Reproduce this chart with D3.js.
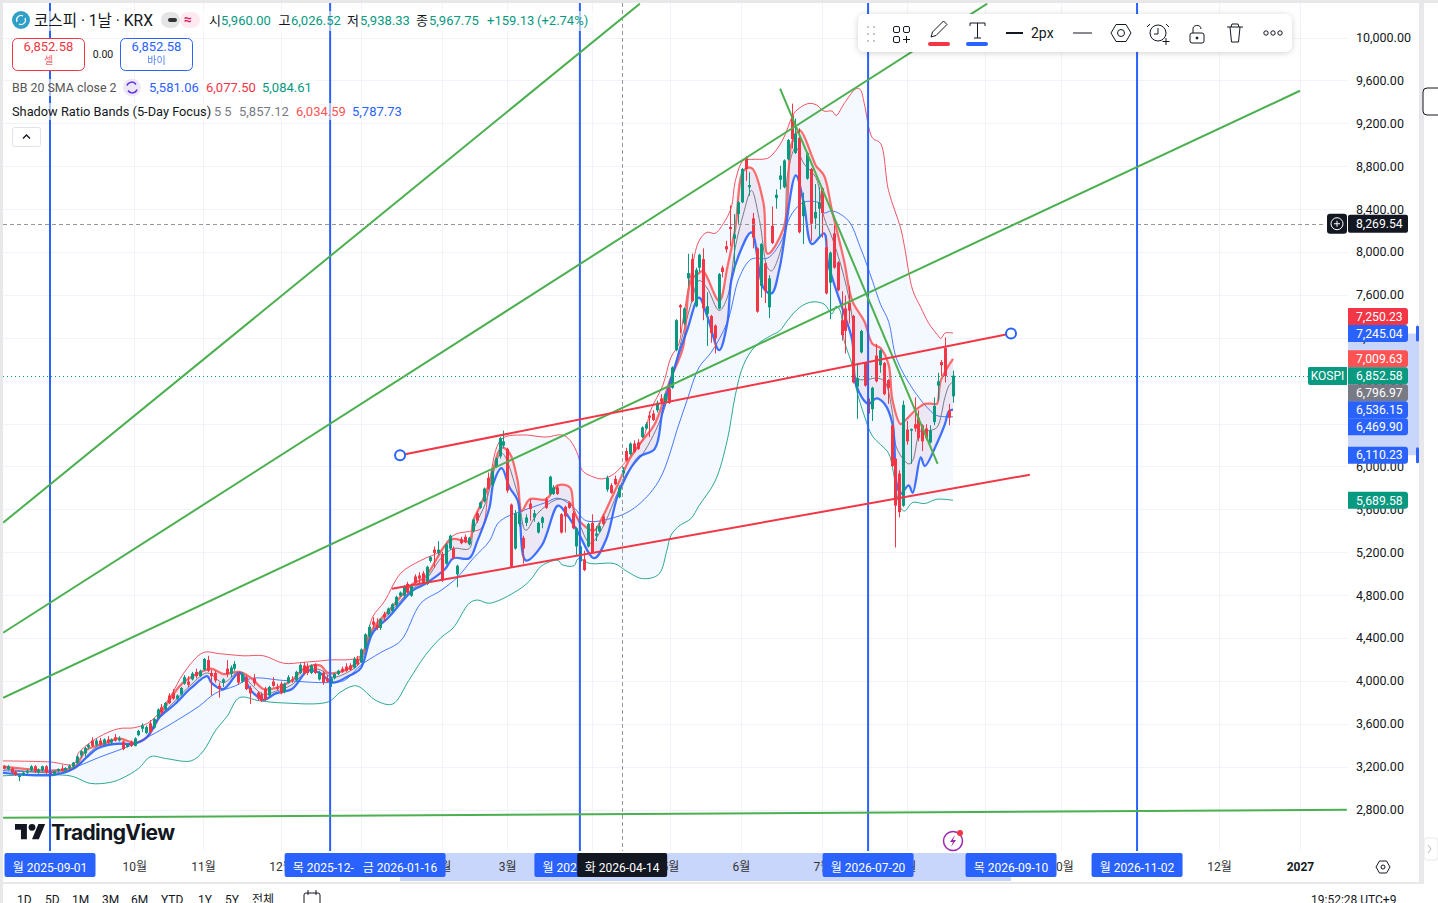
<!DOCTYPE html>
<html><head><meta charset="utf-8">
<style>html,body{margin:0;padding:0;background:#fff;overflow:hidden}svg{display:block}
text{font-family:Roboto,"Noto Sans CJK KR",sans-serif}</style>
<script src="https://cdn.jsdelivr.net/npm/d3@7/dist/d3.min.js"></script></head><body>
<svg id="c" width="1438" height="903"></svg>
<script>
// ---------- candles (one entry per session) ----------
const opens=[3220,3210,3180,3190,3160,3110,3130,3150,3170,3210,3150,3170,3210,3160,3130,3165,3190,3170,3195,3205,
3240,3310,3330,3385,3450,3410,3450,3420,3460,3430,3480,3450,3440,3390,3440,3400,3500,3560,3520,3610,
3570,3660,3760,3740,3870,3890,3840,3880,3980,4000,4020,4090,4050,4110,4200,4080,4080,3960,3990,4120,
4070,4120,4070,4000,4040,3940,4030,3895,3880,3930,3870,4000,3950,3980,3900,3990,4020,4010,4080,4150,
4140,4080,4160,4020,4080,4030,3990,4030,4070,4120,4140,4150,4130,4210,4180,4310,4420,4560,4530,4500,
4630,4630,4660,4710,4800,4800,4910,4800,4980,4990,5010,4910,5125,5230,5200,5190,5100,5240,5240,5000,
5330,5350,5280,5400,5570,5620,5680,5900,5830,6000,6100,6200,6170,5650,5240,5470,5340,5480,5660,5530,
5390,5480,5700,5750,5750,5810,5560,5630,5670,5570,5260,5120,5140,5260,5480,5360,5400,5540,5790,5830,
5890,5720,5940,6150,6120,6220,6230,6280,6360,6480,6500,6530,6640,6600,6730,6740,7090,7510,7340,7760,
7940,7500,7860,7940,7430,7410,7320,7480,7860,8060,8240,8130,8360,8470,8880,8610,8320,8040,7690,7900,
7490,8250,8510,8680,8610,8870,9280,8930,9070,8340,8690,8780,8320,8410,8600,8050,7720,8180,7910,7370,
7480,7530,7410,6750,7070,6970,6640,6540,7040,6950,6970,6810,6390,6080,5940,5640,6350,6340,6400,6460,
6390,6360,6230,6420,6760,6980,7110,6530,6660];
const highs=[3230,3220,3220,3200,3170,3130,3160,3180,3220,3220,3190,3215,3220,3180,3170,3190,3220,3200,3225,3250,
3310,3360,3390,3420,3480,3470,3475,3470,3490,3470,3510,3490,3450,3420,3450,3480,3550,3610,3590,3640,
3660,3750,3790,3810,3890,3930,3880,3950,4060,4050,4090,4120,4110,4220,4240,4110,4100,3990,4030,4200,
4150,4190,4090,4090,4060,3960,4070,3910,3900,3950,3960,4040,3980,4000,3990,4060,4050,4100,4170,4180,
4170,4160,4170,4100,4100,4060,4040,4080,4110,4140,4170,4170,4230,4240,4310,4450,4530,4600,4590,4590,
4650,4690,4730,4800,4840,4900,4930,4910,5000,5020,5030,5080,5170,5260,5310,5210,5290,5370,5260,5090,
5350,5370,5350,5520,5590,5680,5810,5950,5970,6090,6280,6340,6180,5660,5600,5590,5360,5560,5700,5600,
5490,5540,5720,5920,5830,5830,5570,5640,5680,5590,5440,5270,5220,5480,5560,5450,5480,5560,5920,5850,
5920,5830,6000,6180,6230,6250,6260,6380,6420,6520,6530,6620,6680,6690,6760,6940,7380,7520,7490,7990,
7990,7860,7990,8040,7630,7420,7330,7810,7880,8110,8440,8360,8480,8790,8900,8750,8370,8050,8090,7910,
7790,8430,8590,8810,8870,9060,9390,9250,9160,8560,8940,8790,8640,8610,8610,8130,8010,8260,7920,7640,
7600,7690,7420,6970,7280,6980,6740,6750,7150,7100,6980,6820,6400,6090,5970,6620,6430,6360,6650,6530,
6400,6400,6390,6650,6880,7000,7210,6590,6900];
const lows=[3170,3180,3170,3140,3120,3070,3120,3140,3160,3150,3140,3160,3140,3120,3120,3155,3160,3160,3175,3190,
3230,3290,3300,3370,3390,3395,3400,3410,3420,3410,3440,3440,3360,3385,3390,3395,3490,3530,3510,3520,
3560,3650,3700,3730,3790,3830,3830,3870,3970,3950,4010,4030,4040,4100,4090,3870,3990,3850,3950,4040,
4040,4100,3970,3990,3920,3790,3960,3820,3810,3820,3860,3950,3920,3880,3890,3980,3990,4000,4070,4060,
4060,4070,4070,4010,3970,3990,3950,4020,4060,4080,4090,4100,4120,4150,4170,4300,4400,4500,4480,4480,
4560,4620,4650,4700,4790,4780,4820,4790,4900,4900,4910,4900,5110,5060,5180,4930,5090,5230,5140,4880,
5280,5290,5270,5390,5480,5610,5670,5790,5820,5990,6080,6180,5760,5060,5230,5450,5100,5450,5500,5490,
5380,5430,5610,5740,5740,5740,5380,5390,5610,5420,5180,5070,5030,5250,5190,5310,5390,5460,5770,5750,
5830,5710,5900,6050,6110,6130,6160,6270,6350,6280,6430,6510,6590,6590,6590,6730,7080,7250,7320,7690,
7540,7490,7820,7370,7130,7160,7060,7470,7770,8000,8060,7830,8270,8460,8670,8530,8040,7440,7580,7530,
7390,8080,8410,8590,8600,8860,8970,8920,8180,8080,8680,8110,8220,8140,8140,7610,7380,7850,7640,7180,
7060,7340,6780,6450,7060,6750,6450,6430,6790,6880,6670,6590,6000,5250,5530,5630,6210,6030,6330,6240,
6150,6250,6220,6390,6620,6850,6790,6390,6600];
const closes=[3180,3190,3210,3150,3130,3125,3150,3170,3210,3160,3180,3210,3150,3130,3165,3185,3170,3195,3215,3245,
3300,3350,3380,3410,3400,3450,3415,3460,3430,3460,3450,3470,3370,3415,3400,3470,3540,3590,3575,3530,
3650,3740,3710,3800,3800,3840,3870,3940,4040,3970,4075,4050,4100,4210,4100,4050,4010,3930,4020,4070,
4130,4165,3990,4070,3930,3890,3985,3840,3820,3830,3950,3960,3930,3890,3980,4040,4010,4090,4155,4080,
4080,4150,4080,4080,3990,4000,4030,4070,4100,4090,4100,4110,4210,4160,4300,4440,4510,4530,4500,4580,
4600,4680,4720,4790,4830,4890,4830,4900,4920,4960,4920,5070,5160,5200,5230,4940,5280,5360,5150,5080,
5290,5300,5340,5510,5500,5670,5800,5800,5960,6080,6270,6240,5780,5070,5570,5570,5240,5530,5610,5570,
5480,5530,5620,5910,5810,5750,5390,5540,5620,5430,5430,5260,5040,5470,5200,5380,5450,5470,5900,5760,
5840,5810,5970,6060,6220,6140,6170,6370,6400,6460,6440,6600,6610,6680,6600,6930,7370,7490,7480,7810,
7550,7840,7980,7480,7500,7250,7200,7800,7820,8030,8220,8170,8470,8780,8780,8630,8140,7450,8080,7640,
7760,8090,8540,8720,8860,9050,9060,9110,8190,8480,8930,8270,8380,8470,8370,7620,8000,7860,7650,7230,
7270,7460,6790,6830,7270,6760,6500,6740,6800,7090,6680,6740,6010,5640,5580,6580,6240,6355,6360,6270,
6240,6270,6340,6570,6800,6950,6850,6460,6852.58];

// ---------- Bollinger Bands, read at sample positions ----------
const bbUpperAt=[0,12,18,19,24,29,33,37,42,45,50,54,60,65,70,75,81,89,92,95,99,104,109,111,113,116,119,121,124,129,135,139,141,143,144,146,149,152,155,159,161,164,166,168,169,171,173,175,177,179,181,182,184,186,190,192,194,196,197,200,202,204,206,207,209,212,213,214,216,218,220,223,224,226,228,230,232,233,234,236];
const bbUpper=[3260,3250,3230,3330,3480,3560,3570,3630,3870,4070,4270,4260,4240,4240,4170,4180,4200,4240,4600,4750,5010,5130,5220,5330,5380,5400,5430,5870,6260,6300,6280,6300,6250,6110,5970,5920,5890,5940,6060,6250,6530,6760,7020,7150,7370,7800,8110,8190,8180,8270,8420,8670,8860,8870,8880,8950,9070,9260,9320,9390,9380,9320,9320,9280,9390,9530,9520,9390,9070,9020,8580,8230,8050,7650,7490,7340,7240,7200,7250,7250];
const bbBasisAt=[0,12,18,24,33,40,44,49,53,58,62,70,81,85,89,94,99,104,109,113,117,121,123,125,129,135,138,142,145,152,157,163,168,170,173,176,180,183,186,190,193,196,199,203,204,206,210,213,216,218,220,222,226,230,232,236];
const bbBasis=[3170,3160,3200,3290,3420,3560,3650,3770,3890,3960,4030,4010,3990,4010,4150,4270,4380,4730,4850,4970,5150,5310,5470,5530,5590,5670,5710,5620,5500,5530,5620,5870,6400,6620,6930,7070,7350,7770,7940,7950,8080,8360,8470,8460,8370,8390,8300,8050,7740,7520,7360,7010,6730,6540,6480,6470];
const bbLowerAt=[0,17,22,27,30,34,37,41,47,50,53,56,59,64,70,81,84,88,93,97,101,105,109,112,116,118,121,128,131,134,138,139,142,143,146,152,155,159,163,165,166,168,171,173,177,180,182,184,187,191,193,195,198,201,204,206,207,208,209,211,212,214,216,220,221,223,224,226,229,232,236];
const bbLower=[3120,3120,3050,3060,3100,3190,3300,3280,3260,3350,3540,3680,3850,3820,3800,3810,3900,3960,3820,3790,4010,4240,4410,4500,4730,4760,4730,4850,4940,5080,5130,5090,5080,5145,5100,5100,5030,4960,5000,5220,5360,5450,5520,5640,5870,6250,6670,6950,7130,7230,7270,7370,7490,7540,7520,7430,7500,7460,7180,6950,6730,6480,6290,6130,5990,5620,5590,5670,5660,5700,5690];

// ---------- Shadow Ratio Bands, read at sample positions ----------
const srUpperAt=[0,12,18,21,26,29,33,36,39,42,45,49,52,55,59,62,65,68,72,75,79,81,86,89,92,96,102,105,108,110,112,116,117,119,121,124,126,128,129,131,135,138,141,142,144,147,149,153,156,159,162,166,169,171,173,174,178,180,182,184,186,189,190,194,196,198,201,202,204,206,209,211,214,216,218,220,221,223,224,227,229,231,232,233,236];
const srUpper=[3210,3170,3200,3360,3430,3470,3430,3480,3660,3850,3990,4080,4120,4070,4090,4030,3930,3940,4010,4120,4150,4080,4120,4220,4490,4660,4910,4970,5150,5270,5330,5310,5500,5660,5850,6180,6130,5870,5590,5700,5700,5830,5810,5590,5470,5410,5530,5850,6090,6250,6400,6830,7110,7740,7810,7830,7550,7860,8230,8760,8790,8460,7990,8230,9020,9140,8900,8810,8720,8390,7920,7550,7360,7150,7110,6960,6620,6400,6430,6540,6590,6590,6590,6810,7009.63];
const srMidAt=[0,12,18,24,33,36,39,43,47,51,55,59,62,65,68,72,76,79,82,86,89,92,96,102,105,109,112,116,117,120,124,128,130,133,138,141,143,146,149,152,155,159,164,168,171,173,175,178,180,182,184,186,188,190,191,194,195,197,199,202,204,206,209,211,212,215,217,219,221,222,225,226,228,230,232,234,235,236];
const srMid=[3190,3150,3190,3400,3420,3480,3660,3820,3970,4080,3990,4090,3970,3880,3910,3970,4110,4110,4040,4090,4180,4470,4630,4870,4940,5150,5240,5240,5410,5660,6130,5750,5410,5570,5700,5670,5500,5290,5430,5690,5940,6120,6500,7090,7520,7740,7670,7460,7580,8050,8360,8580,8300,7860,7830,8140,8740,8980,8830,8700,8330,8140,7770,7390,6830,6820,6830,6800,6500,6180,6030,6060,6340,6340,6370,6650,6760,6796.97];
const srLowerAt=[0,13,18,21,24,29,33,36,39,43,47,51,52,55,59,62,65,68,72,76,79,82,86,89,92,96,102,105,110,112,116,118,121,122,124,126,128,130,134,138,140,143,147,150,153,158,162,164,168,170,173,175,178,180,181,183,186,189,191,193,197,199,201,204,205,209,211,212,215,217,219,221,222,223,225,226,228,229,232,234,235,236];
const srLower=[3150,3130,3190,3290,3380,3420,3420,3480,3660,3790,3940,4050,3990,3930,4080,3910,3830,3890,3930,4100,4080,3990,4050,4120,4450,4600,4850,4910,5050,5150,5150,5310,5620,5850,5990,5810,5690,5130,5270,5640,5570,5390,5150,5330,5750,6090,6170,6530,7060,7270,7580,7410,7090,7340,7740,7990,8190,7670,7620,7860,8720,8460,8080,8180,7900,7430,7180,6760,6590,6640,6590,6400,5850,5750,5830,5760,6090,6010,6220,6400,6520,6536.15];

// ---------- drawings ----------
const greenStartBar=[0.8,0.8,0.8,0.8,203], greenEndBar=[166.5,256.9,338.3,350.5,244];
const greenStart=[5481,4455,3849,2730,9529], greenEnd=[10322,10322,9510,2804,6031];
const redStartBar=[104.1,102], redEndBar=[263.1,268];
const redStart=[6110.23,4865], redEnd=[7245.04,5929];
const vLineBars=[13,85.9,150.9,225.9,295.9];
const crossBar=161.9, crossPrice=8269.54, lastPrice=6852.58;

// ---------- axis labels ----------
const priceTicks=[10000,9600,9200,8800,8400,8000,7600,7200,6800,6400,6000,5600,5200,4800,4400,4000,3600,3200,2800];
const monthBars=[34.9,52.8,73.1,93.9,115,132,154,174.3,192.8,213.9,236,256.3,276.1,317.2,338.3];
const monthNames=["10월","11월","12월","1월","2월","3월","4월","5월","6월","7월","8월","9월","10월","12월","2027"];
const dateBars=[13,85.9,104.1,150.9,161.9,225.9,263.1,295.9];
const dateNames=["월 2025-09-01","목 2025-12-18","금 2026-01-16","월 2026-03-23","화 2026-04-14","월 2026-07-20","목 2026-09-10","월 2026-11-02"];
const tagValues=[7245.04,7009.63,6852.58,6796.97,6536.15,6469.90,6110.23,5689.58];
const tagNames=["7,245.04","7,009.63","6,852.58","6,796.97","6,536.15","6,469.90","6,110.23","5,689.58"];
const tagColors=["#2962ff","#ff5252","#089981","#787b86","#2962ff","#2962ff","#2962ff","#089981"];
const rangeNames=["1D","5D","1M","3M","6M","YTD","1Y","5Y","전체"];
const rangeOffsets=[17,45,72,102,131,161,198,225,252];

const BLUE="#2962ff",RED="#f23645",TEAL="#089981",GREEN="#4caf50",INK="#131722";
const svg=d3.select("#c");
const xBar=d3.scaleLinear().domain([0,248]).range([0.05,953]);
const xSample=d3.scaleLinear().domain([0,236]).range([1.64,953]);
const y=d3.scaleLinear().domain([10000,2800]).range([38.2,810.2]);

svg.append("rect").attr("width",1438).attr("height",903).attr("fill","#fff");
const defs=svg.append("defs");
defs.append("clipPath").attr("id","pane").append("rect").attr("x",3).attr("y",3).attr("width",1345).attr("height",848);
const f=defs.append("filter").attr("id","sh").attr("x","-5%").attr("y","-30%").attr("width","110%").attr("height","170%");
f.append("feDropShadow").attr("dx",0).attr("dy",1).attr("stdDeviation",3).attr("flood-color","#000").attr("flood-opacity",.18);

// grid
const pane=svg.append("g").attr("clip-path","url(#pane)");
pane.append("g").selectAll("line").data(priceTicks).join("line")
 .attr("x1",3).attr("x2",1348).attr("y1",d=>Math.round(y(d)-.7)+.5).attr("y2",d=>Math.round(y(d)-.7)+.5).attr("stroke","#f0f3fa");
pane.append("g").selectAll("line").data(monthBars).join("line")
 .attr("y1",3).attr("y2",851).attr("x1",d=>Math.round(xBar(d))+.5).attr("x2",d=>Math.round(xBar(d))+.5).attr("stroke","#f0f3fa");

// bands
const pts=(at,v)=>at.map((a,i)=>[xSample(a),y(v[i])]);
const line=d3.line().curve(d3.curveCatmullRom.alpha(.5));
function band(upAt,up,loAt,lo,fill){
  const u=pts(upAt,up), l=pts(loAt,lo).reverse();
  pane.append("path").attr("d",line(u)+"L"+line(l).slice(1)+"Z").attr("fill",fill);
}
function stroke(at,v,c,w,op){pane.append("path").attr("d",line(pts(at,v))).attr("fill","none").attr("stroke",c).attr("stroke-width",w).attr("stroke-opacity",op||1).attr("stroke-linejoin","round");}
band(bbUpperAt,bbUpper,bbLowerAt,bbLower,"#f3f9fe");
band(srUpperAt,srUpper,srLowerAt,srLower,"#ece7f5");
stroke(bbUpperAt,bbUpper,RED,1,.85);
stroke(bbBasisAt,bbBasis,BLUE,1,.85);
stroke(bbLowerAt,bbLower,TEAL,1,.85);
stroke(srMidAt,srMid,"#787b86",1);
stroke(srUpperAt,srUpper,"#ff5252",2.25,.85);
stroke(srLowerAt,srLower,BLUE,2.25,.9);

// candles
const candles=pane.append("g");
opens.forEach((o,i)=>{
  const c=closes[i]>=o?TEAL:RED, cx=Math.round(xBar(i));
  candles.append("rect").attr("x",cx).attr("width",1).attr("y",y(highs[i])).attr("height",y(lows[i])-y(highs[i])).attr("fill",c);
  const t=y(Math.max(o,closes[i])), b=y(Math.min(o,closes[i]));
  candles.append("rect").attr("x",cx-1).attr("width",3).attr("y",t).attr("height",Math.max(1,b-t)).attr("fill",c);
});

// crosshair and price line
pane.append("line").attr("x1",3).attr("x2",1326).attr("y1",Math.round(y(crossPrice))+.5).attr("y2",Math.round(y(crossPrice))+.5).attr("stroke","#9598a1").attr("stroke-dasharray","4 3");
pane.append("line").attr("x1",Math.round(xBar(crossBar))+.5).attr("x2",Math.round(xBar(crossBar))+.5).attr("y1",3).attr("y2",851).attr("stroke","#9598a1").attr("stroke-dasharray","4 3");
pane.append("line").attr("x1",3).attr("x2",1308).attr("y1",Math.round(y(lastPrice))+.5).attr("y2",Math.round(y(lastPrice))+.5).attr("stroke",TEAL).attr("stroke-dasharray","1 3");

// drawings
pane.append("g").selectAll("line").data(vLineBars).join("line")
 .attr("x1",d=>xBar(d)).attr("x2",d=>xBar(d)).attr("y1",3).attr("y2",853).attr("stroke",BLUE).attr("stroke-width",2);
pane.append("g").selectAll("line").data(greenStart).join("line")
 .attr("x1",(d,i)=>xBar(greenStartBar[i])).attr("x2",(d,i)=>xBar(greenEndBar[i]))
 .attr("y1",d=>y(d)).attr("y2",(d,i)=>y(greenEnd[i])).attr("stroke",GREEN).attr("stroke-width",2);
pane.append("g").selectAll("line").data(redStart).join("line")
 .attr("x1",(d,i)=>xBar(redStartBar[i])).attr("x2",(d,i)=>xBar(redEndBar[i]))
 .attr("y1",d=>y(d)).attr("y2",(d,i)=>y(redEnd[i])).attr("stroke",RED).attr("stroke-width",2);
[[redStartBar[0],redStart[0]],[redEndBar[0],redEnd[0]]].forEach(p=>{
  pane.append("circle").attr("cx",xBar(p[0])).attr("cy",y(p[1])).attr("r",5).attr("fill","#fff").attr("stroke",BLUE).attr("stroke-width",2);
});

// price axis
svg.append("rect").attr("x",1348).attr("y",y(redEnd[0])).attr("width",71).attr("height",y(redStart[0])-y(redEnd[0])).attr("fill","#c9d6fb");
const yAxis=svg.append("g").attr("transform","translate(1348,-0.7)").call(d3.axisRight(y).tickValues(priceTicks).tickSize(0).tickPadding(8).tickFormat(d3.format(",.2f")));
yAxis.select(".domain").remove();
yAxis.selectAll("text").attr("font-size",12.5).attr("fill",INK).style("font-family","Roboto");
[y(redEnd[0]),y(redStart[0])].forEach(v=>svg.append("rect").attr("x",1416).attr("y",v-8).attr("width",3).attr("height",16).attr("rx",1.5).attr("fill",BLUE));

// price tags
function tag(cy,txt,col){
  const g=svg.append("g");
  g.append("path").attr("d",`M1348 ${cy-8.5}H1405q3 0 3 3V${cy+5.5}q0 3 -3 3H1348Z`).attr("fill",col);
  g.append("text").attr("x",1356).attr("y",cy+4.2).attr("font-size",12.2).attr("fill","#fff").text(txt);
}
let prev=-99;
tagValues.forEach((v,i)=>{const p=Math.max(y(v),prev+17);prev=p;tag(p,tagNames[i],tagColors[i]);});
tag(y(tagValues[0])-17,"7,250.23",RED);
svg.append("path").attr("d",`M1308 ${Math.round(y(lastPrice))-8}q0 -1 2 -1H1347V${Math.round(y(lastPrice))+9}H1310q-2 0 -2 -2Z`).attr("fill",TEAL);
svg.append("text").attr("x",1327.5).attr("y",y(lastPrice)+4.5).attr("text-anchor","middle").attr("font-size",12).attr("fill","#fff").text("KOSPI");
// crosshair price label
const cy0=y(crossPrice);
svg.append("rect").attr("x",1348).attr("y",cy0-9).attr("width",60).attr("height",18).attr("rx",2).attr("fill","#131722");
svg.append("text").attr("x",1356).attr("y",cy0+4.2).attr("font-size",12.2).attr("fill","#fff").text("8,269.54");
svg.append("rect").attr("x",1327).attr("y",cy0-10).attr("width",20).attr("height",20).attr("rx",3).attr("fill","#131722");
svg.append("circle").attr("cx",1337).attr("cy",cy0).attr("r",6).attr("fill","none").attr("stroke","#fff");
svg.append("path").attr("d",`M1334 ${cy0}h6M1337 ${cy0-3}v6`).attr("stroke","#fff");

// time axis
svg.append("rect").attr("x",xBar(dateBars[2])).attr("y",853).attr("width",xBar(dateBars[6])-xBar(dateBars[2])).attr("height",28).attr("fill","#c9d6fb");
const xAxis=svg.append("g").attr("transform","translate(0,856.5)").call(d3.axisBottom(xBar).tickValues(monthBars).tickSize(0).tickPadding(6).tickFormat((d,i)=>monthNames[i]));
xAxis.select(".domain").remove();
xAxis.selectAll("text").attr("font-size",12).attr("fill",(d,i)=>monthNames[i]==="2027"?INK:"#333").attr("font-weight",(d,i)=>monthNames[i]==="2027"?700:400);
dateBars.forEach((b,i)=>{
  const cx=xBar(b), col=i===4?"#131722":BLUE, w=i===4?90:91;
  svg.append("rect").attr("x",cx-w/2).attr("y",853).attr("width",w).attr("height",24).attr("rx",2).attr("fill",col);
  svg.append("text").attr("x",cx).attr("y",872).attr("text-anchor","middle").attr("font-size",12).attr("fill","#fff").text(dateNames[i]);
});
// settings hexagon
svg.append("path").attr("d","M1376 867l3.5 -6h7l3.5 6l-3.5 6h-7Z").attr("fill","none").attr("stroke",INK);
svg.append("circle").attr("cx",1383).attr("cy",867).attr("r",2).attr("fill","none").attr("stroke",INK);

// chrome
svg.append("rect").attr("width",1438).attr("height",3).attr("fill","#e8e8ea");
svg.append("rect").attr("width",3).attr("height",903).attr("fill","#e8e8ea");
svg.append("rect").attr("x",1419).attr("y",0).attr("width",5).attr("height",884).attr("fill","#e8e8ea");
svg.append("rect").attr("x",0).attr("y",882).attr("width",1424).attr("height",2).attr("fill","#e8e8ea");
svg.append("rect").attr("x",1423).attr("y",88).attr("width",20).attr("height",27).attr("rx",4).attr("fill","#fff").attr("stroke","#131722");
svg.append("rect").attr("x",1424).attr("y",838).attr("width",14).attr("height",22).attr("rx",3).attr("fill","#fff").attr("stroke","#e8e8ea");
svg.append("path").attr("d","M1428 845l3 4l-3 4").attr("fill","none").attr("stroke","#b2b5be");

// bottom bar
rangeNames.forEach((t,i)=>svg.append("text").attr("x",rangeOffsets[i]).attr("y",904).attr("font-size",12).attr("fill",INK).text(t));
svg.append("rect").attr("x",304).attr("y",893).attr("width",16).attr("height",14).attr("rx",2).attr("fill","none").attr("stroke",INK);
svg.append("path").attr("d","M308 890v5M316 890v5").attr("stroke",INK);
svg.append("text").attr("x",1311).attr("y",904).attr("font-size",12).attr("fill",INK).text("19:52:28 UTC+9");

// legend
const lg=svg.append("g");
[[6,11,590,20],[12,79,305,17],[12,103,395,17]].forEach(r=>lg.append("rect").attr("x",r[0]).attr("y",r[1]).attr("width",r[2]).attr("height",r[3]).attr("fill","#fff").attr("opacity",.6));
lg.append("circle").attr("cx",21).attr("cy",20).attr("r",9).attr("fill","#2e9fc6");
lg.append("path").attr("d","M17 22a4.5 4.5 0 0 1 6-6M25 18a4.5 4.5 0 0 1 -6 6").attr("fill","none").attr("stroke","#fff").attr("stroke-width",1.2);
lg.append("text").attr("x",34).attr("y",25.5).attr("font-size",15.6).attr("fill",INK).text("코스피 · 1날 · KRX");
lg.append("rect").attr("x",161).attr("y",12).attr("width",19).attr("height",16).attr("rx",8).attr("fill","#e4e4e6");
lg.append("rect").attr("x",180).attr("y",12).attr("width",20).attr("height",16).attr("rx",8).attr("fill","#fdeaf0");
lg.append("rect").attr("x",168).attr("y",18).attr("width",9).attr("height",4).attr("rx",2).attr("fill","#333");
lg.append("text").attr("x",184).attr("y",24).attr("font-size",14).attr("font-weight",700).attr("fill","#d81b60").text("≈");
const vals=[[209,"시",INK],[221,"5,960.00",TEAL],[278.5,"고",INK],[291,"6,026.52",TEAL],[347,"저",INK],[360,"5,938.33",TEAL],[416,"종",INK],[429,"5,967.75",TEAL],[487,"+159.13",TEAL],[537,"(+2.74%)",TEAL],
 [149,"5,581.06",BLUE,87.5],[206,"6,077.50",RED,87.5],[262,"5,084.61",TEAL,87.5],
 [239,"5,857.12","#787b86",111.5],[296,"6,034.59","#ff5252",111.5],[352,"5,787.73",BLUE,111.5]];
vals.forEach(v=>lg.append("text").attr("x",v[0]).attr("y",(v[3]||20)+4.5).attr("font-size",13).attr("fill",v[2]).text(v[1]));
lg.append("text").attr("x",12).attr("y",92).attr("font-size",12.4).attr("fill","#555").text("BB 20 SMA close 2");
lg.append("circle").attr("cx",132).attr("cy",87.5).attr("r",9).attr("fill","#ede7f6");
lg.append("path").attr("d","M127 85.5a5 5 0 0 1 9 -1M137 89.5a5 5 0 0 1 -9 1").attr("fill","none").attr("stroke","#5e35e0").attr("stroke-width",1.5);
lg.append("text").attr("x",12).attr("y",116).attr("font-size",12.8).attr("fill",INK).text("Shadow Ratio Bands (5-Day Focus)");
lg.append("text").attr("x",214).attr("y",116).attr("font-size",12.8).attr("fill","#787b86").text("5 5");
[[12,RED,"6,852.58","셀"],[120,BLUE,"6,852.58","바이"]].forEach(b=>{
  lg.append("rect").attr("x",b[0]+.5).attr("y",38.5).attr("width",72).attr("height",32).attr("rx",5).attr("fill","#fff").attr("stroke",b[1]);
  lg.append("text").attr("x",b[0]+36.5).attr("y",51).attr("text-anchor","middle").attr("font-size",13).attr("fill",b[1]).text(b[2]);
  lg.append("text").attr("x",b[0]+36.5).attr("y",64).attr("text-anchor","middle").attr("font-size",10).attr("fill",b[1]).attr("opacity",.8).text(b[3]);
});
lg.append("text").attr("x",103).attr("y",58).attr("text-anchor","middle").attr("font-size",10.5).attr("fill",INK).text("0.00");
lg.append("rect").attr("x",12.5).attr("y",127.5).attr("width",28).attr("height",19).attr("rx",2).attr("fill","#fff").attr("stroke","#e0e3eb");
lg.append("path").attr("d","M23 138.5l3.5 -3.5l3.5 3.5").attr("fill","none").attr("stroke",INK).attr("stroke-width",1.3);

// TradingView mark
svg.append("path").attr("d","M14 22H7V11H0V4h14v18zM28 22h-8l7.5-18h8L28 22z").attr("transform","translate(15,820.5) scale(.85)").attr("fill",INK);
svg.append("circle").attr("cx",32).attr("cy",827.3).attr("r",3.4).attr("fill",INK);
svg.append("text").attr("x",51).attr("y",840).attr("font-size",21).attr("font-weight",700).attr("letter-spacing","-0.6").attr("fill",INK).style("font-family","Inter").text("TradingView");

// lightning badge
svg.append("circle").attr("cx",953).attr("cy",841).attr("r",9.5).attr("fill","#fff").attr("stroke","#9c27b0").attr("stroke-width",1.5);
svg.append("path").attr("d","M955 835l-5 7h3l-2 5l5 -7h-3Z").attr("fill","#9c27b0");
svg.append("circle").attr("cx",960).attr("cy",833).attr("r",3).attr("fill",RED);

// drawing toolbar
const tb=svg.append("g").attr("fill","none").attr("stroke",INK);
tb.append("rect").attr("x",858).attr("y",14).attr("width",434).attr("height",38).attr("rx",7).attr("fill","#fff").attr("stroke","none").attr("filter","url(#sh)");
[26,33,40].forEach(a=>[867,873].forEach(b=>tb.append("rect").attr("x",b).attr("y",a).attr("width",2).attr("height",2).attr("fill","#c4c6cc").attr("stroke","none")));
[[893,26],[903,26],[893,36]].forEach(p=>tb.append("rect").attr("x",p[0]+.5).attr("y",p[1]+.5).attr("width",6).attr("height",6).attr("rx",1.5));
tb.append("path").attr("d","M903 39.5h7M906.5 36v7");
tb.append("path").attr("d","M931 37l1.5 -5l11 -11l3.5 3.5l-11 11Z");
tb.append("rect").attr("x",928).attr("y",42).attr("width",22).attr("height",4).attr("rx",2).attr("fill",RED).attr("stroke","none");
tb.append("path").attr("d","M970 26v-3h15v3M977.5 23v15M974 38h7");
tb.append("rect").attr("x",966).attr("y",42).attr("width",22).attr("height",4).attr("rx",2).attr("fill",BLUE).attr("stroke","none");
tb.append("path").attr("d","M1006 33h17").attr("stroke-width",2);
tb.append("text").attr("x",1031).attr("y",38).attr("font-size",14).attr("fill",INK).attr("stroke","none").text("2px");
tb.append("path").attr("d","M1073 33h19");
tb.append("path").attr("d","M1111 33l5 -8.5h10l5 8.5l-5 8.5h-10Z");
tb.append("circle").attr("cx",1121).attr("cy",33).attr("r",3.5);
tb.append("circle").attr("cx",1158).attr("cy",33).attr("r",8);
tb.append("path").attr("d","M1158 28v6h-4M1150 24l-3 3M1166 24l3 3M1166 38v7M1162.5 41.5h7");
tb.append("rect").attr("x",1190).attr("y",33).attr("width",14).attr("height",10).attr("rx",2);
tb.append("path").attr("d","M1193 33v-3a4 4 0 0 1 8 -1");
tb.append("circle").attr("cx",1197).attr("cy",38).attr("r",1).attr("fill",INK);
tb.append("path").attr("d","M1227 27h16M1230 27l1.5 15h7l1.5 -15M1231 27l1 -3h6l1 3");
[1266,1273,1280].forEach(a=>tb.append("circle").attr("cx",a).attr("cy",33).attr("r",2.2));
</script></body></html>
